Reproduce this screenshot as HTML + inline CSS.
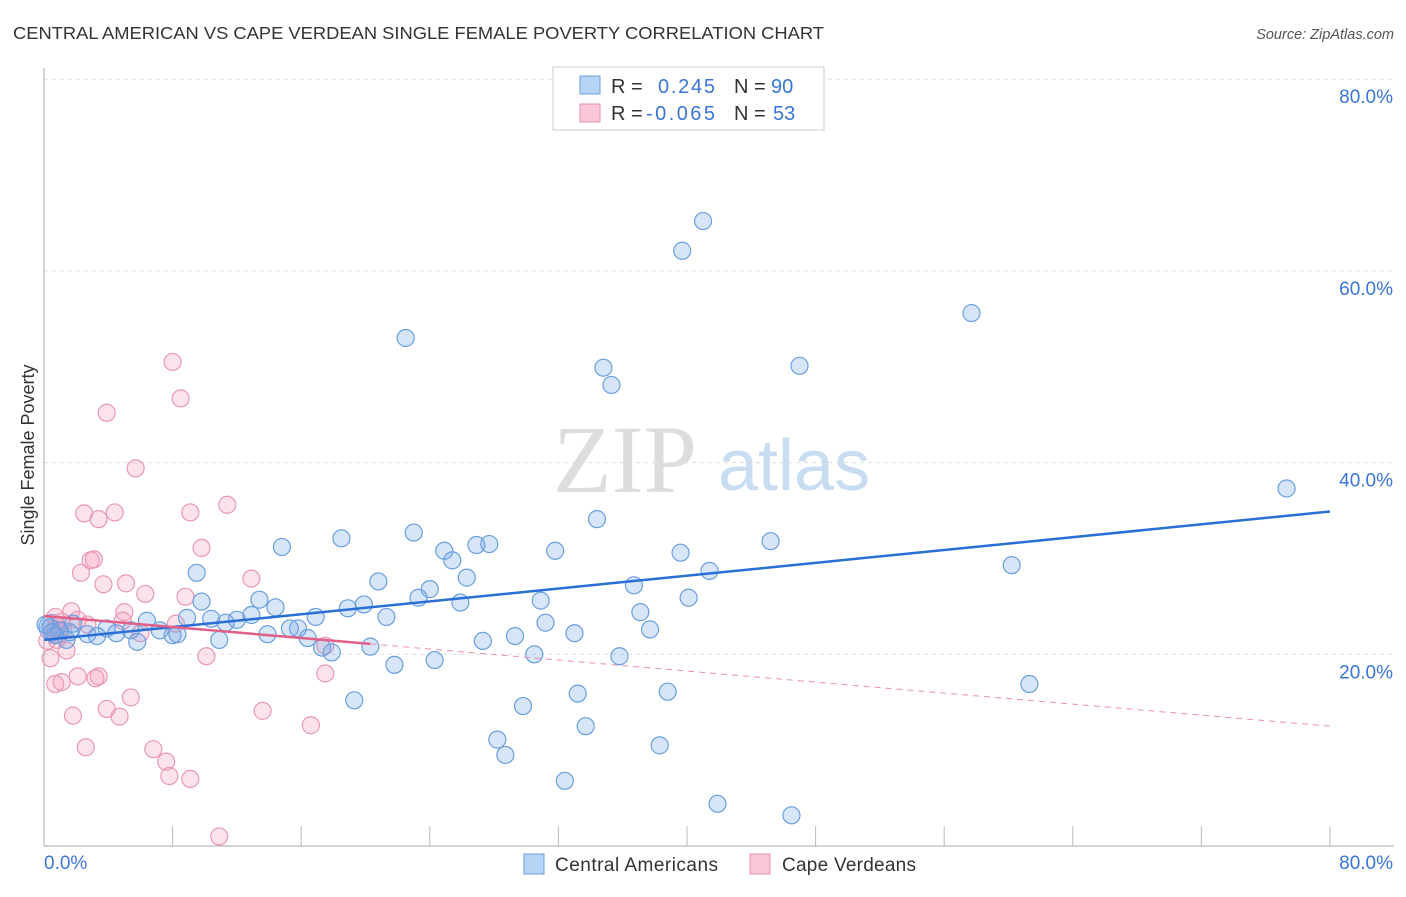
<!DOCTYPE html>
<html><head><meta charset="utf-8"><style>
body{margin:0;background:#fff;width:1406px;height:892px;overflow:hidden;font-family:"Liberation Sans",sans-serif}
</style></head><body>
<svg width="1406" height="892" xmlns="http://www.w3.org/2000/svg">
<text x="13" y="39" font-size="17.5" fill="#333" textLength="811" lengthAdjust="spacingAndGlyphs">CENTRAL AMERICAN VS CAPE VERDEAN SINGLE FEMALE POVERTY CORRELATION CHART</text>
<text x="1394" y="39" font-size="14.5" fill="#555" font-style="italic" text-anchor="end">Source: ZipAtlas.com</text>
<g>
<text x="553" y="492" font-size="96" font-family="Liberation Serif,serif" fill="#ddd">ZIP</text>
<text x="718" y="490" font-size="72" fill="#c8dcf2">atlas</text>
</g>
<g id="grid"></g>
<g id="axes"></g>
<text transform="translate(34,455) rotate(-90)" font-size="18" fill="#333" text-anchor="middle">Single Female Poverty</text>
<g id="marks"></g>
<g id="trends"></g>
<g>
<rect x="553" y="67" width="271" height="63" fill="#fff" stroke="#ccc"/>
<rect x="580" y="76" width="20" height="18" fill="#b7d3f5" stroke="#6a9fe0"/>
<rect x="580" y="104" width="20" height="18" fill="#f9c7d7" stroke="#e890b0"/>
<text x="611" y="93" font-size="20" fill="#333">R = </text><text x="658" y="93" font-size="20" fill="#3a75d8" textLength="57">0.245</text>
<text x="734" y="93" font-size="20" fill="#333">N = </text><text x="771" y="93" font-size="20" fill="#3a75d8">90</text>
<text x="611" y="120" font-size="20" fill="#333">R = </text><text x="646" y="120" font-size="20" fill="#3a75d8" textLength="69">-0.065</text>
<text x="734" y="120" font-size="20" fill="#333">N = </text><text x="773" y="120" font-size="20" fill="#3a75d8">53</text>
</g>
<g>
<rect x="524" y="854" width="20" height="20" fill="#b7d3f5" stroke="#6a9fe0"/>
<text x="555" y="871" font-size="19" fill="#333" textLength="163">Central Americans</text>
<rect x="750" y="854" width="20" height="20" fill="#f9c7d7" stroke="#e890b0"/>
<text x="782" y="871" font-size="19" fill="#333" textLength="134">Cape Verdeans</text>
</g>
</svg>
<script>
const yTicks=[20,40,60,80];
const yTickLabels=["20.0%","40.0%","60.0%","80.0%"];
const xLabels=["0.0%","80.0%"];
const blueX=[41.0,39.7,57.7,22.5,34.8,47.0,35.3,77.3,34.4,23.0,18.5,14.8,45.2,27.7,26.9,24.9,31.8,39.6,25.4,60.2,41.4,9.5,20.8,26.3,36.7,24.0,23.3,40.1,9.8,25.9,30.9,13.4,14.4,19.9,18.9,37.1,21.3,16.9,8.9,10.4,12.9,12.0,6.4,11.3,31.2,37.7,15.3,15.8,33.0,29.3,13.9,7.2,8.0,8.3,5.4,3.9,4.5,2.7,3.3,1.6,1.0,0.4,0.7,1.8,10.9,16.4,27.3,5.8,17.3,17.9,20.3,30.5,35.8,24.3,21.8,61.3,33.2,38.8,19.3,29.8,33.7,28.2,38.3,28.7,32.4,41.9,46.5,1.4,0.1,0.5];
const blueY=[65.2,62.1,55.6,53.0,49.9,50.1,48.1,37.3,34.1,32.7,32.1,31.2,31.8,31.5,31.4,30.8,30.8,30.6,29.8,29.3,28.7,28.5,27.6,28.0,27.2,26.8,25.9,25.9,25.5,25.4,25.6,25.7,24.9,25.2,24.8,24.4,23.9,23.9,23.8,23.7,24.1,23.6,23.5,23.3,23.3,22.6,22.7,22.7,22.2,21.9,22.1,22.5,22.0,22.1,22.5,22.7,22.2,22.1,21.9,22.3,22.5,22.8,22.0,23.2,21.5,21.7,21.4,21.3,20.7,20.2,20.8,20.0,19.8,19.4,18.9,16.9,15.9,16.1,15.2,14.6,12.5,11.1,10.5,9.5,6.8,4.4,3.2,21.5,23.1,22.3];
const pinkX=[8.0,8.5,3.9,5.7,11.4,2.5,4.4,9.1,3.4,9.8,2.9,3.1,2.3,12.9,5.1,3.7,8.8,6.3,1.7,5.0,2.1,4.9,8.2,2.7,6.0,0.7,1.1,0.2,1.4,10.1,0.4,17.5,2.1,3.4,0.7,1.1,3.2,5.4,17.5,3.9,13.6,1.8,4.7,16.6,2.6,6.8,7.6,7.8,9.1,10.9,0.8,1.2,0.7];
const pinkY=[50.5,46.7,45.2,39.4,35.6,34.7,34.8,34.8,34.1,31.1,29.8,29.9,28.5,27.9,27.4,27.3,26.0,26.3,24.5,24.4,23.6,23.5,23.2,23.1,22.2,22.7,23.4,21.4,20.4,19.8,19.6,20.9,17.7,17.7,16.9,17.1,17.5,15.5,18.0,14.3,14.1,13.6,13.5,12.6,10.3,10.1,8.8,7.3,7.0,1.0,21.5,22.5,23.9];
const blueTrend=[21.5,34.9];
const pinkTrend=[24.0,12.5];
const pinkSolidEnd=20.3;
const NS='http://www.w3.org/2000/svg';
const X=v=>44+v*16.075, Y=v=>846-v*9.585;
function mk(t,a,p){const e=document.createElementNS(NS,t);for(const k in a)e.setAttribute(k,a[k]);p.appendChild(e);return e;}
const grid=document.getElementById('grid'),axes=document.getElementById('axes'),marks=document.getElementById('marks'),tr=document.getElementById('trends');
yTicks.forEach((v,i)=>{
 const l=mk('line',{x1:44,x2:1394,y1:Y(v),y2:Y(v),stroke:'#ddd','stroke-dasharray':'4,4'},grid);
 
 
 const t=mk('text',{x:1393,y:Y(v)+24,'font-size':19,fill:'#3a75d8','text-anchor':'end'},axes);
 t.textContent=yTickLabels[i];
 
 
});
const ax=mk('line',{x1:44,x2:44,y1:68,y2:846,stroke:'#aaa'},axes);


const bx=mk('line',{x1:44,x2:1394,y1:846,y2:846,stroke:'#aaa'},axes);


for(let v=8;v<=80;v+=8){const tk=mk('line',{x1:X(v),x2:X(v),y1:826,y2:846,stroke:'#bbb'},axes);
 
 }
const x0=mk('text',{x:44,y:869,'font-size':19,fill:'#3a75d8'},axes);x0.textContent=xLabels[0];


const x1=mk('text',{x:1393,y:869,'font-size':19,fill:'#3a75d8','text-anchor':'end'},axes);x1.textContent=xLabels[1];


const bb=mk('circle',{cx:X(0.5),cy:Y(22.8),r:13,fill:'rgba(110,160,225,0.3)',stroke:'#6a9fe0'},marks);


const pb=mk('circle',{cx:X(0.8),cy:Y(22.3),r:11,fill:'rgba(240,150,180,0.3)',stroke:'#e890b0'},marks);


pinkX.forEach((v,i)=>{const c=mk('circle',{cx:X(v),cy:Y(pinkY[i]),r:8.5,fill:'rgba(244,160,190,0.3)',stroke:'#e998b5','stroke-width':1.2},marks);
 
 });
blueX.forEach((v,i)=>{const c=mk('circle',{cx:X(v),cy:Y(blueY[i]),r:8.5,fill:'rgba(120,170,230,0.3)',stroke:'#6a9fe0','stroke-width':1.2},marks);
 
 });
const bt=mk('line',{x1:X(0),y1:Y(blueTrend[0]),x2:X(80),y2:Y(blueTrend[1]),stroke:'#2a6fd6','stroke-width':2.5},tr);


const pe=pinkTrend[0]+(pinkTrend[1]-pinkTrend[0])*pinkSolidEnd/80;
const ps=mk('line',{x1:X(0),y1:Y(pinkTrend[0]),x2:X(pinkSolidEnd),y2:Y(pe),stroke:'#e0608a','stroke-width':2.5},tr);


const pd=mk('line',{x1:X(pinkSolidEnd),y1:Y(pe),x2:X(80),y2:Y(pinkTrend[1]),stroke:'#e890b0','stroke-width':1,'stroke-dasharray':'6,5'},tr);


</script>
</body></html>
